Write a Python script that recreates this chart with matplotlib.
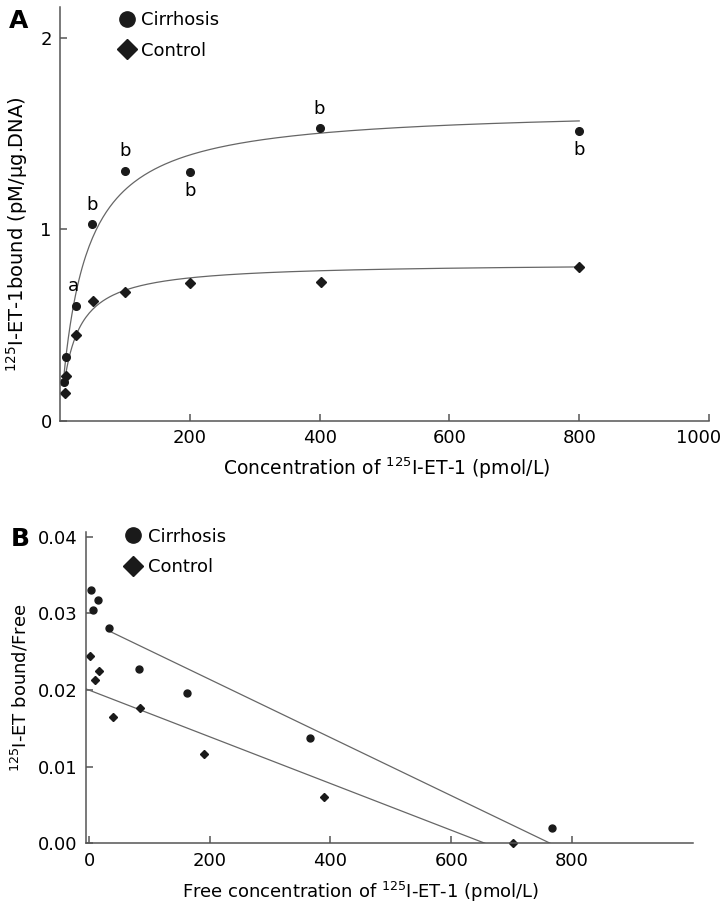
import matplotlib
matplotlib.use('Agg')
import matplotlib.pyplot as plt
from matplotlib.lines import Line2D
from matplotlib.transforms import ScaledTranslation
import numpy as np

plt.rcParams['font.family'] = ['DejaVu Sans']
plt.rcParams['font.size'] = 13

# Panel A - saturation binding
conc_a = [6, 10, 25, 50, 100, 200, 400, 800]
cirr_a = [0.204, 0.331, 0.60, 1.027, 1.305, 1.30, 1.528, 1.513]
ctrl_conc_a = [8, 10, 25, 51, 100, 201, 402, 800]
ctrl_a = [0.143, 0.233, 0.449, 0.623, 0.674, 0.719, 0.723, 0.803]
sig_labels = ['', '', 'a', 'b', 'b', 'b', 'b', 'b']
sig_side = [0, 0, 1, 1, 1, -1, 1, -1]   # 1 above, -1 below

# fitted hyperbola parameters
cirr_bmax, cirr_kd, cirr_start = 1.635, 35.7, 5
ctrl_bmax, ctrl_kd, ctrl_start = 0.824, 21.0, 8

# Panel B - Scatchard
free_cirr = [3.3, 7.2, 15.5, 33.7, 82.5, 163, 366, 767]
ratio_cirr = [0.0331, 0.0304, 0.0318, 0.0281, 0.0227, 0.0196, 0.0138, 0.0020]
free_ctrl = [2.2, 9.4, 17, 40.4, 85, 191, 390, 703]
ratio_ctrl = [0.0244, 0.0213, 0.0225, 0.0165, 0.0177, 0.0116, 0.0061, 0.0001]

# regression lines: (x start, y intercept, x intercept)
cirr_line = (33.7, 0.02898, 764)
ctrl_line = (-5, 0.0200, 656)

mk = '#1a1a1a'
ln = '#666666'
sp = '#555555'

fig = plt.figure(figsize=(7.23, 9.07), dpi=100)
axA = fig.add_axes([60/723, 1-420.7/907, 649/723, 413.7/907])
axB = fig.add_axes([86/723, 1-843.3/907, 606.7/723, 311/907])

for ax in (axA, axB):
    ax.spines['top'].set_visible(False)
    ax.spines['right'].set_visible(False)
    for s in ('left', 'bottom'):
        ax.spines[s].set_color(sp)
        ax.spines[s].set_linewidth(1.1)
    ax.tick_params(direction='in', length=5, width=1.1, color=sp, labelsize=13, pad=6)

# ---- A ----
xc = np.linspace(cirr_start, 800, 300)
axA.plot(xc, cirr_bmax*xc/(cirr_kd+xc), color=ln, lw=0.9)
xk = np.linspace(ctrl_start, 800, 300)
axA.plot(xk, ctrl_bmax*xk/(ctrl_kd+xk), color=ln, lw=0.9)
axA.plot(conc_a, cirr_a, 'o', color=mk, ms=5.5, ls='none')
axA.plot(ctrl_conc_a, ctrl_a, 'D', color=mk, ms=5, ls='none')
for x, y, t, s in zip(conc_a, cirr_a, sig_labels, sig_side):
    if t:
        axA.annotate(t, (x, y), xytext=(-2 if t == 'a' else 0, 14*s), textcoords='offset points',
                     ha='center', va='center', fontsize=13)
axA.set_xlim(0, 1000)
axA.set_ylim(0, 2.16)
axA.set_xticks([200, 400, 600, 800, 1000])
axA.set_yticks([0, 1, 2])
lab = axA.get_xticklabels()[-1]
lab.set_transform(lab.get_transform() + ScaledTranslation(-0.1, 0, fig.dpi_scale_trans))
axA.set_xlabel('Concentration of $^{125}$I-ET-1 (pmol/L)', fontsize=13.5)
axA.set_ylabel('$^{125}$I-ET-1bound (pM/μg.DNA)', fontsize=14)
axA.yaxis.set_label_coords(-0.046, 0.45)
axA.xaxis.set_label_coords(0.503, -0.085)
hA = [Line2D([], [], marker='o', color=mk, ls='none', ms=11),
      Line2D([], [], marker='D', color=mk, ls='none', ms=10)]
axA.legend(hA, ['Cirrhosis', 'Control'], loc='upper left', bbox_to_anchor=(0.089, 0.99),
           frameon=False, handlelength=1.0, handletextpad=0.3, labelspacing=0.7,
           borderpad=0, borderaxespad=0, fontsize=13)

# ---- B ----
for (x0, b, xint) in (cirr_line, ctrl_line):
    xs = np.array([x0, xint])
    axB.plot(xs, b - b/xint*xs, color=ln, lw=0.9)
axB.plot(free_cirr, ratio_cirr, 'o', color=mk, ms=5, ls='none', clip_on=False)
axB.plot(free_ctrl, ratio_ctrl, 'D', color=mk, ms=4.5, ls='none', clip_on=False)
axB.set_xlim(-5, 1000)
axB.set_ylim(0, 0.0406)
axB.set_xticks([0, 200, 400, 600, 800])
axB.set_yticks([0, 0.01, 0.02, 0.03, 0.04])
axB.set_yticklabels(['0.00', '0.01', '0.02', '0.03', '0.04'])
axB.set_xlabel('Free concentration of $^{125}$I-ET-1 (pmol/L)', fontsize=13)
axB.xaxis.set_label_coords(0.452, -0.118)
axB.set_ylabel('$^{125}$I-ET bound/Free', fontsize=13)
axB.yaxis.set_label_coords(-0.092, 0.5)
hB = [Line2D([], [], marker='o', color=mk, ls='none', ms=11),
      Line2D([], [], marker='D', color=mk, ls='none', ms=10)]
axB.legend(hB, ['Cirrhosis', 'Control'], loc='upper left', bbox_to_anchor=(0.063, 1.015),
           frameon=False, handlelength=1.0, handletextpad=0.3, labelspacing=0.7,
           borderpad=0, borderaxespad=0, fontsize=13)

fig.text(19/723, 1-21/907, 'A', fontsize=18, fontweight='bold', ha='center', va='center')
fig.text(20/723, 1-539/907, 'B', fontsize=18, fontweight='bold', ha='center', va='center')

fig.savefig('out.png', dpi=100)
